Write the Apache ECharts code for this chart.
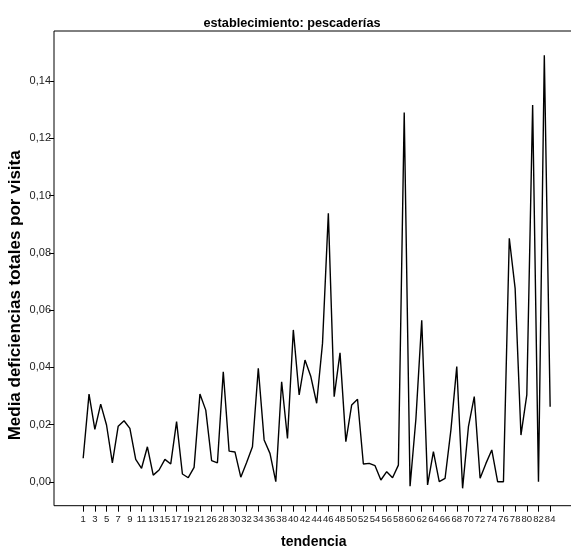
<!DOCTYPE html>
<html>
<head>
<meta charset="utf-8">
<script src="https://cdn.jsdelivr.net/npm/echarts@6/dist/echarts.min.js"></script>
<style>
  html, body { margin: 0; padding: 0; background: #fff; }
  #chart { width: 571px; height: 552px; }
</style>
</head>
<body>
<div id="chart"></div>
<script>
// Trend periods present in the data (period labels), in order
const periods = [
  '1','2','3','4','5','6','7','8','9','10','11','12','13','14','15','16','17','18','19','20','21',
  '25',
  '26','27','28','29','30','31','32','33','34','35','36','37','38','39','40','41','42','43','44','45',
  '46','47','48','49','50','51','52','53','54','55','56','57','58','59','60','61','62','63','64','65',
  '66','67','68','69','70','71','72','73','74','75','76','77','78','79','80','81','82','83','84'
];

// Mean total deficiencies per visit, one value per period
const meanDeficiencies = [
  0.0083, 0.0307, 0.0184, 0.0272, 0.0199, 0.0067, 0.0195, 0.0214, 0.0187, 0.0079,
  0.0048, 0.0123, 0.0024, 0.0042, 0.0079, 0.0063, 0.0211, 0.0028, 0.0015, 0.0051,
  0.0307,
  0.0251,
  0.0075, 0.0067, 0.0385, 0.0108, 0.0105, 0.0017, 0.0068, 0.0123, 0.0397, 0.0147,
  0.0100, 0.0001, 0.0350, 0.0152, 0.0531, 0.0304, 0.0426, 0.0368, 0.0275, 0.0484,
  0.0938, 0.0298, 0.0451, 0.0141, 0.0269, 0.0289, 0.0063, 0.0065, 0.0057, 0.0007,
  0.0036, 0.0015, 0.0059, 0.1290, -0.0015, 0.0220, 0.0565, -0.0010, 0.0106, 0.0001,
  0.0013, 0.0182, 0.0403, -0.0022, 0.0193, 0.0298, 0.0013, 0.0065, 0.0112, 0.0001,
  0.0001, 0.0851, 0.0676, 0.0164, 0.0304, 0.1316, 0.0001, 0.1490, 0.0263
];

// Y tick values
const yTicks = [0, 0.02, 0.04, 0.06, 0.08, 0.10, 0.12, 0.14];

// Every other period gets a tick and label
const xTickPositions = periods.map((_, i) => i).filter(i => i % 2 === 0);

const FONT = '"Liberation Sans", Arial, Helvetica, sans-serif';

const chart = echarts.init(document.getElementById('chart'), null, { renderer: 'canvas' });

chart.setOption({
  animation: false,
  backgroundColor: '#ffffff',
  title: {
    text: 'establecimiento: pescaderías',
    left: 287,
    top: 12,
    textAlign: 'center',
    textStyle: { fontFamily: FONT, fontSize: 12.7, fontWeight: 'bold', color: '#000' }
  },
  grid: {
    show: true,
    left: 54,
    right: -2.5,
    top: 31,
    bottom: 46.3,
    containLabel: false,
    outerBoundsMode: 'none',
    borderColor: '#000',
    borderWidth: 1,
    backgroundColor: 'transparent'
  },
  xAxis: {
    type: 'value',
    min: -5,
    max: 84,
    name: 'tendencia',
    nameLocation: 'middle',
    nameGap: 29,
    nameMoveOverlap: false,
    nameTextStyle: { fontFamily: FONT, fontSize: 14, fontWeight: 'bold', color: '#000' },
    axisLine: { show: false, onZero: false },
    splitLine: { show: false },
    axisTick: {
      show: true,
      length: 6,
      inside: false,
      customValues: xTickPositions,
      lineStyle: { color: '#000', width: 1 }
    },
    axisLabel: {
      show: true,
      margin: 9,
      customValues: xTickPositions,
      fontFamily: FONT,
      fontSize: 9.5,
      color: '#222',
      formatter: (v) => periods[Math.round(v)] ?? ''
    }
  },
  yAxis: {
    type: 'value',
    min: -0.00827,
    max: 0.15746,
    name: 'Media deficiencias totales por visita',
    nameLocation: 'middle',
    nameGap: 30,
    nameMoveOverlap: false,
    nameTextStyle: {
      fontFamily: FONT, fontSize: 17, fontWeight: 'bold', color: '#000',
      padding: [0, 54, 0, 0]
    },
    axisLine: { show: false, onZero: false },
    splitLine: { show: false },
    axisTick: {
      show: true,
      length: 5,
      customValues: yTicks,
      lineStyle: { color: '#000', width: 1 }
    },
    axisLabel: {
      show: true,
      margin: 3,
      customValues: yTicks,
      fontFamily: FONT,
      fontSize: 11,
      color: '#222',
      formatter: (v) => v.toFixed(2).replace('.', ',')
    }
  },
  series: [{
    type: 'line',
    data: meanDeficiencies.map((v, i) => [i, v]),
    showSymbol: false,
    symbol: 'none',
    lineStyle: { color: '#000', width: 1.4 },
    z: 3
  }]
});
</script>
</body>
</html>
